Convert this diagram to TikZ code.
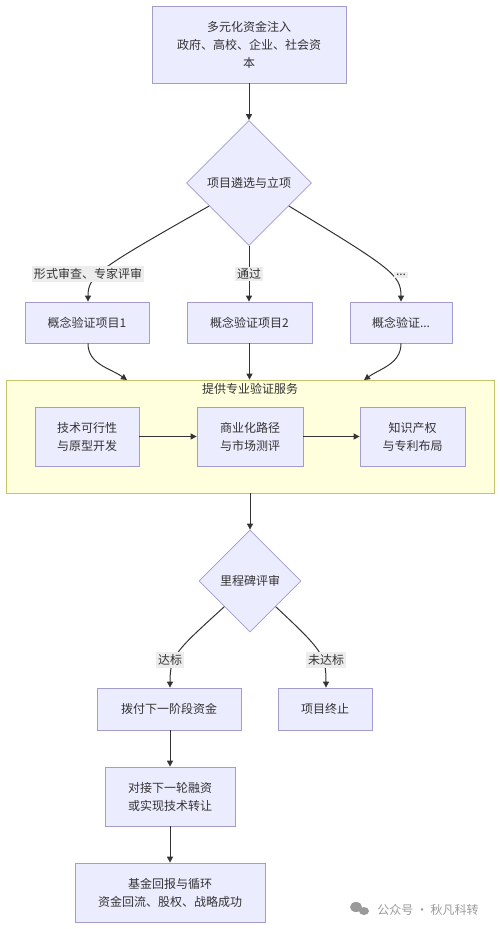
\documentclass[tikz,border=0pt]{standalone}
\usepackage{fontspec}
\setmainfont{Noto Sans CJK SC}
\usetikzlibrary{arrows.meta,shapes.geometric}

\definecolor{boxfill}{HTML}{ECECFF}
\definecolor{boxline}{HTML}{A29CCF}
\definecolor{grpfill}{HTML}{FFFFDE}
\definecolor{grpline}{HTML}{C4C46A}
\definecolor{tagfill}{HTML}{EDEDED}
\definecolor{edge}{HTML}{333333}
\definecolor{txt}{HTML}{333333}
\definecolor{wmgray}{HTML}{9A9A9A}

\begin{document}
\begin{tikzpicture}[x=1pt,y=1pt,
  every node/.style={text=txt,font=\fontsize{12}{18}\selectfont},
  box/.style={draw=boxline,fill=boxfill,line width=0.8pt,align=center,inner sep=0pt},
  choice/.style={draw=boxline,fill=boxfill,line width=0.8pt,diamond,aspect=1,inner sep=0pt},
  group/.style={draw=grpline,fill=grpfill,line width=0.8pt,inner sep=0pt},
  tag/.style={fill=tagfill,inner sep=2pt},
  link/.style={draw=edge,line width=1pt},
  arr/.style={link,-{Triangle[length=6pt,width=6pt]}}]

\useasboundingbox[fill=white] (0,0) rectangle (500,-929);

\node[box,minimum width=194pt,minimum height=77pt] (src) at (249,-44.5) {多元化资金注入\\政府、高校、企业、社会资\\本};
\node[choice,minimum width=125pt,minimum height=125pt] (pick) at (249,-183) {项目遴选与立项};

\node[box,minimum width=124pt,minimum height=41pt] (poc1) at (87,-322.5) {概念验证项目1};
\node[box,minimum width=125pt,minimum height=41pt] (poc2) at (249.5,-322.5) {概念验证项目2};
\node[box,minimum width=102pt,minimum height=41pt] (poc3) at (401,-322.5) {概念验证...};

% service group
\node[group,minimum width=488pt,minimum height=113pt] (svc) at (250,-436.5) {};
\node (svctitle) at (250,-389) {提供专业验证服务};
\coordinate (in1) at (127,-380);
\coordinate (in3) at (364,-380);

\node[box,minimum width=104pt,minimum height=59pt] (tech) at (87,-436.5) {技术可行性\\与原型开发};
\node[box,minimum width=106pt,minimum height=59pt] (mkt) at (250,-436.5) {商业化路径\\与市场测评};
\node[box,minimum width=105pt,minimum height=59pt] (ip) at (412.5,-436.5) {知识产权\\与专利布局};

\node[choice,minimum width=102pt,minimum height=102pt] (mile) at (250,-581) {里程碑评审};

\node[box,minimum width=144pt,minimum height=42pt] (pay) at (169,-709) {拨付下一阶段资金};
\node[box,minimum width=94pt,minimum height=42pt] (stop) at (325,-709) {项目终止};
\node[box,minimum width=130pt,minimum height=59pt] (next) at (170,-796.5) {对接下一轮融资\\或实现技术转让};
\node[box,minimum width=190pt,minimum height=59pt] (fund) at (170,-892.5) {基金回报与循环\\资金回流、股权、战略成功};

% watermark
\fill[wmgray] (356,-907) ellipse (6pt and 5pt);
\fill[wmgray] (364,-911) ellipse (5pt and 4pt);
\node[text=wmgray] (wm) at (428,-910) {公众号 · 秋凡科转};

\draw[arr] (src) -- (pick);

\draw[arr] (pick.210) .. controls (100,-268) and (88,-275) .. (poc1.north -| 88,0);
\draw[arr] (pick) -- (poc2.north -| pick);
\draw[arr] (pick.-30) .. controls (391,-268) and (401,-275) .. (poc3.north);

\draw[arr] (poc1.south -| 88,0) to[out=-90,in=145] (in1);
\draw[arr] (poc2) -- (poc2 |- svc.north);
\draw[arr] (poc3) to[out=-90,in=35] (in3);

\draw[arr] (tech) -- (mkt);
\draw[arr] (mkt) -- (ip);

\draw[arr] (svc.south -| mile) -- (mile);

\draw[arr] (mile.225) .. controls (177,-650) and (170,-655) .. (pay.north -| 170,0);
\draw[arr] (mile.-45) .. controls (322,-650) and (326,-655) .. (stop.north -| 326,0);

\draw[arr] (pay.south -| next) -- (next);
\draw[arr] (next) -- (fund);

% edge labels
\node[tag] (t1) at (88,-274) {形式审查、专家评审};
\node[tag] (t2) at (249,-274) {通过};
\node[tag] (t3) at (401,-275) {...};
\node[tag] (t4) at (170,-660) {达标};
\node[tag] (t5) at (326,-660) {未达标};

\end{tikzpicture}
\end{document}
